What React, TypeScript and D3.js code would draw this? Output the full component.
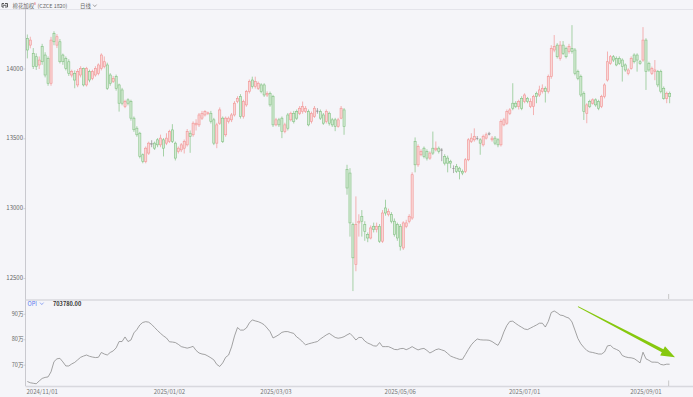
import * as d3 from "d3";
import { useEffect, useRef } from "react";

// daily candles, [open, high, low, close]
const ohlc = [
  [14219, 14247, 14076, 14136], [14171, 14231, 14148, 14207], [14112, 14150, 14000, 14017], [14088, 14112, 13993, 14017],
  [14029, 14090, 14000, 14064], [14160, 14180, 14030, 14052], [14100, 14120, 13940, 13957], [14076, 14090, 13880, 13898],
  [13898, 14230, 13880, 14207], [14255, 14270, 14170, 14195], [14171, 14250, 14150, 14231], [14195, 14215, 14040, 14052],
  [14100, 14110, 14030, 14052], [14076, 14090, 13990, 14005], [14052, 14070, 13950, 13969], [13957, 13995, 13940, 13981],
  [13969, 13990, 13862, 13921], [13886, 14000, 13870, 13981], [13957, 14020, 13940, 14005], [14005, 14010, 13875, 13886],
  [13886, 14015, 13875, 14005], [13981, 13995, 13905, 13921], [13933, 13995, 13920, 13981], [13957, 14020, 13945, 14005],
  [13969, 14040, 13955, 14029], [14005, 14112, 13990, 14100], [14017, 14090, 14005, 14052], [14029, 14045, 13850, 13862],
  [13957, 13970, 13880, 13898], [13910, 13950, 13900, 13933], [13945, 13960, 13845, 13862], [13886, 13895, 13695, 13755],
  [13850, 13865, 13740, 13755], [13731, 13780, 13720, 13767], [13779, 13790, 13740, 13755], [13767, 13780, 13630, 13648],
  [13648, 13660, 13550, 13565], [13576, 13590, 13515, 13529], [13540, 13550, 13360, 13374], [13386, 13395, 13325, 13338],
  [13338, 13445, 13325, 13433], [13398, 13480, 13385, 13469], [13465, 13490, 13440, 13465], [13469, 13480, 13420, 13433],
  [13493, 13505, 13440, 13457], [13457, 13530, 13440, 13505], [13493, 13505, 13374, 13433], [13469, 13540, 13455, 13505],
  [13481, 13565, 13470, 13552], [13564, 13605, 13470, 13481], [13469, 13480, 13345, 13362], [13410, 13445, 13395, 13433],
  [13421, 13470, 13405, 13457], [13433, 13495, 13395, 13481], [13457, 13570, 13445, 13552], [13540, 13560, 13400, 13517],
  [13529, 13625, 13515, 13612], [13600, 13640, 13560, 13612], [13600, 13685, 13585, 13671], [13648, 13700, 13635, 13683],
  [13671, 13705, 13660, 13695], [13680, 13695, 13670, 13686], [13683, 13700, 13610, 13624], [13636, 13650, 13455, 13469],
  [13469, 13615, 13433, 13600], [13612, 13725, 13600, 13707], [13648, 13660, 13470, 13481], [13529, 13660, 13515, 13648],
  [13624, 13660, 13610, 13648], [13636, 13685, 13620, 13671], [13671, 13770, 13660, 13755], [13767, 13805, 13755, 13790],
  [13802, 13820, 13645, 13660], [13660, 13780, 13645, 13767], [13743, 13850, 13730, 13838], [13838, 13925, 13825, 13910],
  [13921, 13945, 13860, 13874], [13874, 13945, 13860, 13910], [13862, 13910, 13850, 13898], [13886, 13898, 13826, 13838],
  [13886, 13898, 13800, 13814], [13814, 13840, 13800, 13826], [13826, 13838, 13730, 13743], [13802, 13815, 13585, 13600],
  [13600, 13650, 13590, 13636], [13636, 13650, 13585, 13600], [13648, 13660, 13505, 13552], [13552, 13615, 13540, 13600],
  [13671, 13685, 13560, 13576], [13636, 13695, 13625, 13683], [13683, 13700, 13610, 13624], [13695, 13710, 13635, 13648],
  [13683, 13735, 13670, 13719], [13695, 13767, 13680, 13731], [13695, 13735, 13685, 13719], [13695, 13710, 13590, 13600],
  [13624, 13695, 13610, 13683], [13660, 13735, 13650, 13719], [13700, 13720, 13680, 13700], [13695, 13710, 13635, 13648],
  [13671, 13685, 13600, 13612], [13624, 13710, 13610, 13695], [13683, 13695, 13595, 13612], [13636, 13650, 13585, 13600],
  [13636, 13650, 13555, 13590], [13590, 13650, 13580, 13636], [13648, 13735, 13640, 13719], [13707, 13720, 13529, 13588],
  [13279, 13314, 13100, 13148], [13255, 13290, 12800, 12898], [12886, 12900, 12410, 12648], [12600, 13088, 12552, 12886],
  [12898, 12960, 12800, 12910], [12945, 12990, 12800, 12910], [12886, 12910, 12770, 12838], [12814, 12830, 12760, 12790],
  [12790, 12880, 12780, 12862], [12874, 12900, 12830, 12850], [12850, 12900, 12830, 12874], [12874, 12890, 12755, 12767],
  [12767, 12990, 12755, 12969], [13005, 13064, 12950, 12969], [12957, 13000, 12945, 12981], [12957, 12975, 12895, 12910],
  [12910, 12930, 12800, 12814], [12886, 12900, 12770, 12790], [12874, 12890, 12700, 12731], [12719, 12910, 12705, 12898],
  [12874, 12920, 12860, 12898], [12910, 12960, 12895, 12945], [12933, 13260, 12920, 13243], [13481, 13510, 13260, 13314],
  [13314, 13460, 13300, 13445], [13386, 13425, 13375, 13410], [13433, 13445, 13360, 13374], [13410, 13425, 13345, 13362],
  [13362, 13410, 13350, 13398], [13433, 13552, 13385, 13398], [13421, 13481, 13410, 13433], [13433, 13445, 13395, 13410],
  [13421, 13433, 13340, 13421], [13374, 13390, 13310, 13326], [13362, 13380, 13260, 13326], [13338, 13350, 13290, 13326],
  [13290, 13310, 13255, 13290], [13302, 13320, 13255, 13267], [13290, 13300, 13210, 13267], [13267, 13280, 13240, 13255],
  [13267, 13362, 13255, 13350], [13350, 13505, 13340, 13493], [13481, 13540, 13470, 13505], [13493, 13575, 13480, 13517],
  [13505, 13520, 13490, 13505], [13493, 13505, 13386, 13469], [13457, 13530, 13445, 13517], [13505, 13545, 13495, 13529],
  [13536, 13550, 13525, 13536], [13493, 13520, 13480, 13505], [13505, 13520, 13455, 13469], [13493, 13505, 13440, 13457],
  [13457, 13640, 13445, 13624], [13600, 13650, 13590, 13636], [13612, 13710, 13600, 13695], [13683, 13720, 13670, 13707],
  [13755, 13898, 13705, 13719], [13755, 13770, 13720, 13731], [13731, 13780, 13710, 13767], [13790, 13805, 13705, 13719],
  [13767, 13826, 13755, 13814], [13790, 13800, 13755, 13767], [13731, 13790, 13720, 13767], [13731, 13815, 13670, 13802],
  [13826, 13838, 13755, 13802], [13814, 13880, 13800, 13850], [13838, 13890, 13825, 13862], [13862, 13875, 13760, 13838],
  [13838, 13960, 13825, 13945], [13945, 14170, 13930, 14148], [14136, 14243, 14120, 14160], [14171, 14185, 14075, 14088],
  [14076, 14200, 14060, 14171], [14171, 14200, 14100, 14112], [14148, 14160, 14076, 14088], [14124, 14180, 14110, 14160],
  [14148, 14314, 14110, 14124], [14136, 14150, 13955, 13969], [13981, 13995, 13920, 13933], [13945, 13960, 13800, 13814],
  [13826, 13840, 13635, 13695], [13683, 13755, 13612, 13743], [13767, 13780, 13720, 13731], [13755, 13790, 13745, 13779],
  [13779, 13790, 13730, 13743], [13767, 13780, 13705, 13719], [13731, 13815, 13720, 13802], [13802, 13898, 13790, 13886],
  [13921, 14125, 13910, 14052], [14040, 14100, 14030, 14088], [14088, 14100, 14050, 14064], [14076, 14090, 14020, 14029],
  [14076, 14090, 14030, 14040], [14064, 14076, 13910, 14017], [14029, 14040, 13980, 13993], [13969, 14005, 13955, 13993],
  [14005, 14090, 13995, 14076], [14100, 14112, 14040, 14052], [14100, 14112, 13981, 14064], [14052, 14064, 14030, 14040],
  [14064, 14300, 14052, 14207], [14207, 14220, 13850, 13981], [14040, 14052, 13980, 13993], [13969, 14017, 13957, 14005],
  [13981, 14064, 13920, 13993], [13981, 13993, 13870, 13886], [13981, 13995, 13826, 13838], [13862, 13875, 13780, 13790],
  [13790, 13838, 13755, 13826], [13826, 13838, 13755, 13802],
];

// open interest, in 万
const opi = [
  63.6, 63.1, 62.9, 62.7, 63.8, 64.8, 65.2, 65.4, 67.4, 71.4,
  72.5, 72.7, 71.3, 69.7, 69.7, 70.5, 71.1, 72.1, 73.1, 73.6,
  74.0, 73.5, 73.2, 73.0, 73.1, 75.0, 74.4, 74.0, 75.0, 75.6,
  76.8, 79.3, 79.3, 81.1, 79.3, 79.9, 82.7, 84.0, 85.8, 86.8,
  87.1, 86.9, 86.0, 84.8, 83.6, 82.5, 81.5, 80.7, 79.2, 79.1,
  78.9, 78.2, 77.3, 77.0, 76.7, 77.0, 77.4, 75.8, 74.8, 74.4,
  74.2, 73.6, 72.9, 72.1, 70.3, 69.5, 70.9, 73.1, 74.0, 77.2,
  81.5, 84.8, 83.8, 83.8, 84.6, 86.6, 87.8, 87.4, 87.1, 86.6,
  85.9, 84.6, 83.2, 80.7, 81.3, 82.0, 82.9, 83.2, 83.2, 82.8,
  82.5, 81.1, 80.3, 79.1, 78.0, 78.4, 78.7, 79.0, 79.3, 80.3,
  81.1, 81.9, 82.5, 81.7, 80.9, 80.6, 80.8, 81.2, 81.9, 82.5,
  81.3, 79.9, 80.9, 80.9, 79.5, 78.7, 78.2, 77.6, 77.5, 78.9,
  77.3, 77.3, 77.3, 76.8, 76.2, 76.1, 76.5, 76.6, 76.1, 76.6,
  77.3, 76.6, 76.0, 76.4, 76.6, 75.8, 74.8, 75.4, 76.1, 76.4,
  76.0, 75.6, 74.6, 73.6, 73.1, 72.7, 72.3, 72.3, 74.2, 76.2,
  78.0, 79.3, 80.3, 80.0, 79.9, 79.9, 79.8, 79.3, 78.5, 77.8,
  79.9, 83.1, 85.6, 87.2, 87.3, 86.4, 85.6, 84.9, 84.2, 84.0,
  84.6, 85.2, 85.8, 86.5, 86.5, 85.0, 87.2, 90.7, 91.3, 90.6,
  89.7, 89.5, 88.9, 88.5, 87.0, 83.8, 80.5, 78.4, 77.0, 75.8,
  75.2, 75.0, 74.7, 74.4, 74.4, 75.2, 77.6, 77.8, 76.7, 76.2,
  75.6, 73.8, 73.3, 73.0, 72.9, 72.6, 71.8, 70.9, 75.1, 72.5,
  71.9, 71.2, 71.2, 71.1, 70.3, 70.1, 70.4, 70.378,
];

const priceTicks = [12500, 13000, 13500, 14000];
const opiTicks = [70, 80, 90];
const dateTicks = [
  { i: 5, label: "2024/11/01" },
  { i: 48, label: "2025/01/02" },
  { i: 84, label: "2025/03/03" },
  { i: 126, label: "2025/05/06" },
  { i: 168, label: "2025/07/01" },
  { i: 209, label: "2025/09/01" },
];
const lastOpi = "703780.00";

const FONT = "'Noto Sans CJK SC', 'Noto Sans', sans-serif";

function App() {
  const svgRef = useRef(null);
  const width = 693;
  const height = 397;

  useEffect(() => {
    const svg = d3.select(svgRef.current);
    svg.selectAll("*").remove();

    svg.append("rect").attr("width", width).attr("height", height).attr("fill", "#f5f5f9");

    const x = d3
      .scaleBand()
      .domain(d3.range(ohlc.length))
      .range([25.5, 671.5])
      .padding(0.25);
    const cx = (i) => x(i) + x.bandwidth() / 2;

    const y = d3.scaleLinear().domain([12500, 14000]).range([278.5, 69]);
    const yOpi = d3.scaleLinear().domain([70, 90]).range([365.2, 314.3]);

    // frame lines
    svg.append("line").attr("x1", 0).attr("x2", width).attr("y1", 9.5).attr("y2", 9.5).attr("stroke", "#e4e4ea");
    svg.append("line").attr("x1", 25.5).attr("x2", 25.5).attr("y1", 9).attr("y2", 386).attr("stroke", "#c9c9cf");
    svg.append("line").attr("x1", 25.5).attr("x2", width).attr("y1", 300).attr("y2", 300)
      .attr("stroke", "#d8d8de").attr("stroke-width", 1.6);
    svg.append("line").attr("x1", 25.5).attr("x2", width).attr("y1", 386.5).attr("y2", 386.5)
      .attr("stroke", "#d8d8de").attr("stroke-width", 1.4);

    // last bar markers
    const lx = cx(ohlc.length - 1) - 1;
    svg.append("line").attr("x1", lx).attr("x2", lx).attr("y1", 294).attr("y2", 299).attr("stroke", "#bbb").attr("stroke-width", 0.8);
    svg.append("line").attr("x1", lx).attr("x2", lx).attr("y1", 380.5).attr("y2", 386).attr("stroke", "#bbb").attr("stroke-width", 0.8);

    // header
    const icon = svg.append("g").attr("fill", "none").attr("stroke", "#444").attr("stroke-width", 0.9);
    icon.append("path").attr("d", "M4,3.5 H2 V7 H4");
    icon.append("path").attr("d", "M5,3.5 H7.5 V7 H5");
    icon.append("line").attr("x1", 3).attr("x2", 6.5).attr("y1", 5.25).attr("y2", 5.25);
    const header = svg.append("text").attr("x", 12.5).attr("y", 7.6)
      .style("font-family", FONT).style("font-size", "5.4px").attr("fill", "#666");
    header.append("tspan").text("棉花加权");
    header.append("tspan").attr("fill", "#e05050").attr("font-size", "4px").attr("dy", -1.5).text("®");
    header.append("tspan").attr("dy", 1.5).attr("dx", 1.5).text("(CZCE 1820)");
    header.append("tspan").attr("x", 80).text("日线");
    svg.append("path").attr("d", "M93,4.6 L94.8,6.6 L96.6,4.6").attr("fill", "none").attr("stroke", "#666").attr("stroke-width", 0.6);

    // price axis
    const yAxis = svg.append("g");
    priceTicks.forEach((t) => {
      yAxis.append("line").attr("x1", 23.5).attr("x2", 25.5).attr("y1", y(t)).attr("y2", y(t)).attr("stroke", "#bbb").attr("stroke-width", 0.6);
      yAxis.append("text").attr("x", 23).attr("y", y(t)).attr("text-anchor", "end").attr("dominant-baseline", "middle")
        .style("font-family", FONT).style("font-size", "6px").attr("fill", "#666").text(t);
    });

    // opi axis
    opiTicks.forEach((t) => {
      yAxis.append("line").attr("x1", 23.5).attr("x2", 25.5).attr("y1", yOpi(t)).attr("y2", yOpi(t)).attr("stroke", "#bbb").attr("stroke-width", 0.6);
      yAxis.append("text").attr("x", 23.5).attr("y", yOpi(t)).attr("text-anchor", "end").attr("dominant-baseline", "middle")
        .style("font-family", FONT).style("font-size", "5.6px").attr("fill", "#666").text(t + "万");
    });

    // date labels
    dateTicks.forEach((d) => {
      svg.append("text").attr("x", cx(d.i)).attr("y", 394).attr("text-anchor", "middle")
        .style("font-family", FONT).style("font-size", "6px").attr("fill", "#777").text(d.label);
    });

    // candles
    const colorOf = (d) => (d[3] > d[0] ? "#f29494" : d[3] < d[0] ? "#82c182" : "#8a8a8a");
    const fillOf = (d) => (d[3] > d[0] ? "#f9d6d6" : d[3] < d[0] ? "#d4ead4" : "#8a8a8a");

    const candles = svg.append("g").selectAll("g").data(ohlc).join("g");
    candles.append("line")
      .attr("x1", (d, i) => cx(i)).attr("x2", (d, i) => cx(i))
      .attr("y1", (d) => y(d[1])).attr("y2", (d) => y(d[2]))
      .attr("stroke", colorOf).attr("stroke-width", 0.7);
    candles.append("rect")
      .attr("x", (d, i) => cx(i) - 1.05)
      .attr("width", 2.1)
      .attr("y", (d) => y(Math.max(d[0], d[3])))
      .attr("height", (d) => Math.max(0.5, Math.abs(y(d[0]) - y(d[3]))))
      .attr("fill", fillOf)
      .attr("stroke", colorOf)
      .attr("stroke-width", (d) => (d[0] === d[3] ? 0.3 : 0.6));

    // OPI line
    const line = d3.line().x((d, i) => cx(i)).y((d) => yOpi(d));
    svg.append("path").datum(opi).attr("d", line).attr("fill", "none")
      .attr("stroke", "#858585").attr("stroke-width", 0.75);

    svg.append("text").attr("x", 27.5).attr("y", 304).attr("dominant-baseline", "middle")
      .style("font-family", FONT).style("font-size", "5.6px").attr("fill", "#5577ee").text("OPI");
    svg.append("path").attr("d", "M40,302.6 L41.8,304.6 L43.6,302.6").attr("fill", "none").attr("stroke", "#5577ee").attr("stroke-width", 0.6);
    svg.append("text").attr("x", 53).attr("y", 304).attr("dominant-baseline", "middle")
      .style("font-family", FONT).style("font-size", "5.6px").style("font-weight", "bold").attr("fill", "#333").text(lastOpi);

    // annotation arrow
    const S = [578, 306.7];
    const T = [675, 357.3];
    const len = Math.hypot(T[0] - S[0], T[1] - S[1]);
    const u = [(T[0] - S[0]) / len, (T[1] - S[1]) / len];
    const n = [-u[1], u[0]];
    const B = [T[0] - 14 * u[0], T[1] - 14 * u[1]];
    const p = (P, k) => [P[0] + k * n[0], P[1] + k * n[1]];
    const pts = [p(S, 0.4), p(B, 1.7), p(B, 5.2), T, p(B, -5.2), p(B, -1.7), p(S, -0.4)];
    svg.append("polygon").attr("points", pts.map((q) => q.join(",")).join(" ")).attr("fill", "#86c80e");
  }, []);

  return (
    <div style={{ position: "fixed", left: 0, top: 0 }}>
      <svg ref={svgRef} width={width} height={height} style={{ display: "block" }}></svg>
    </div>
  );
}

export default App;
